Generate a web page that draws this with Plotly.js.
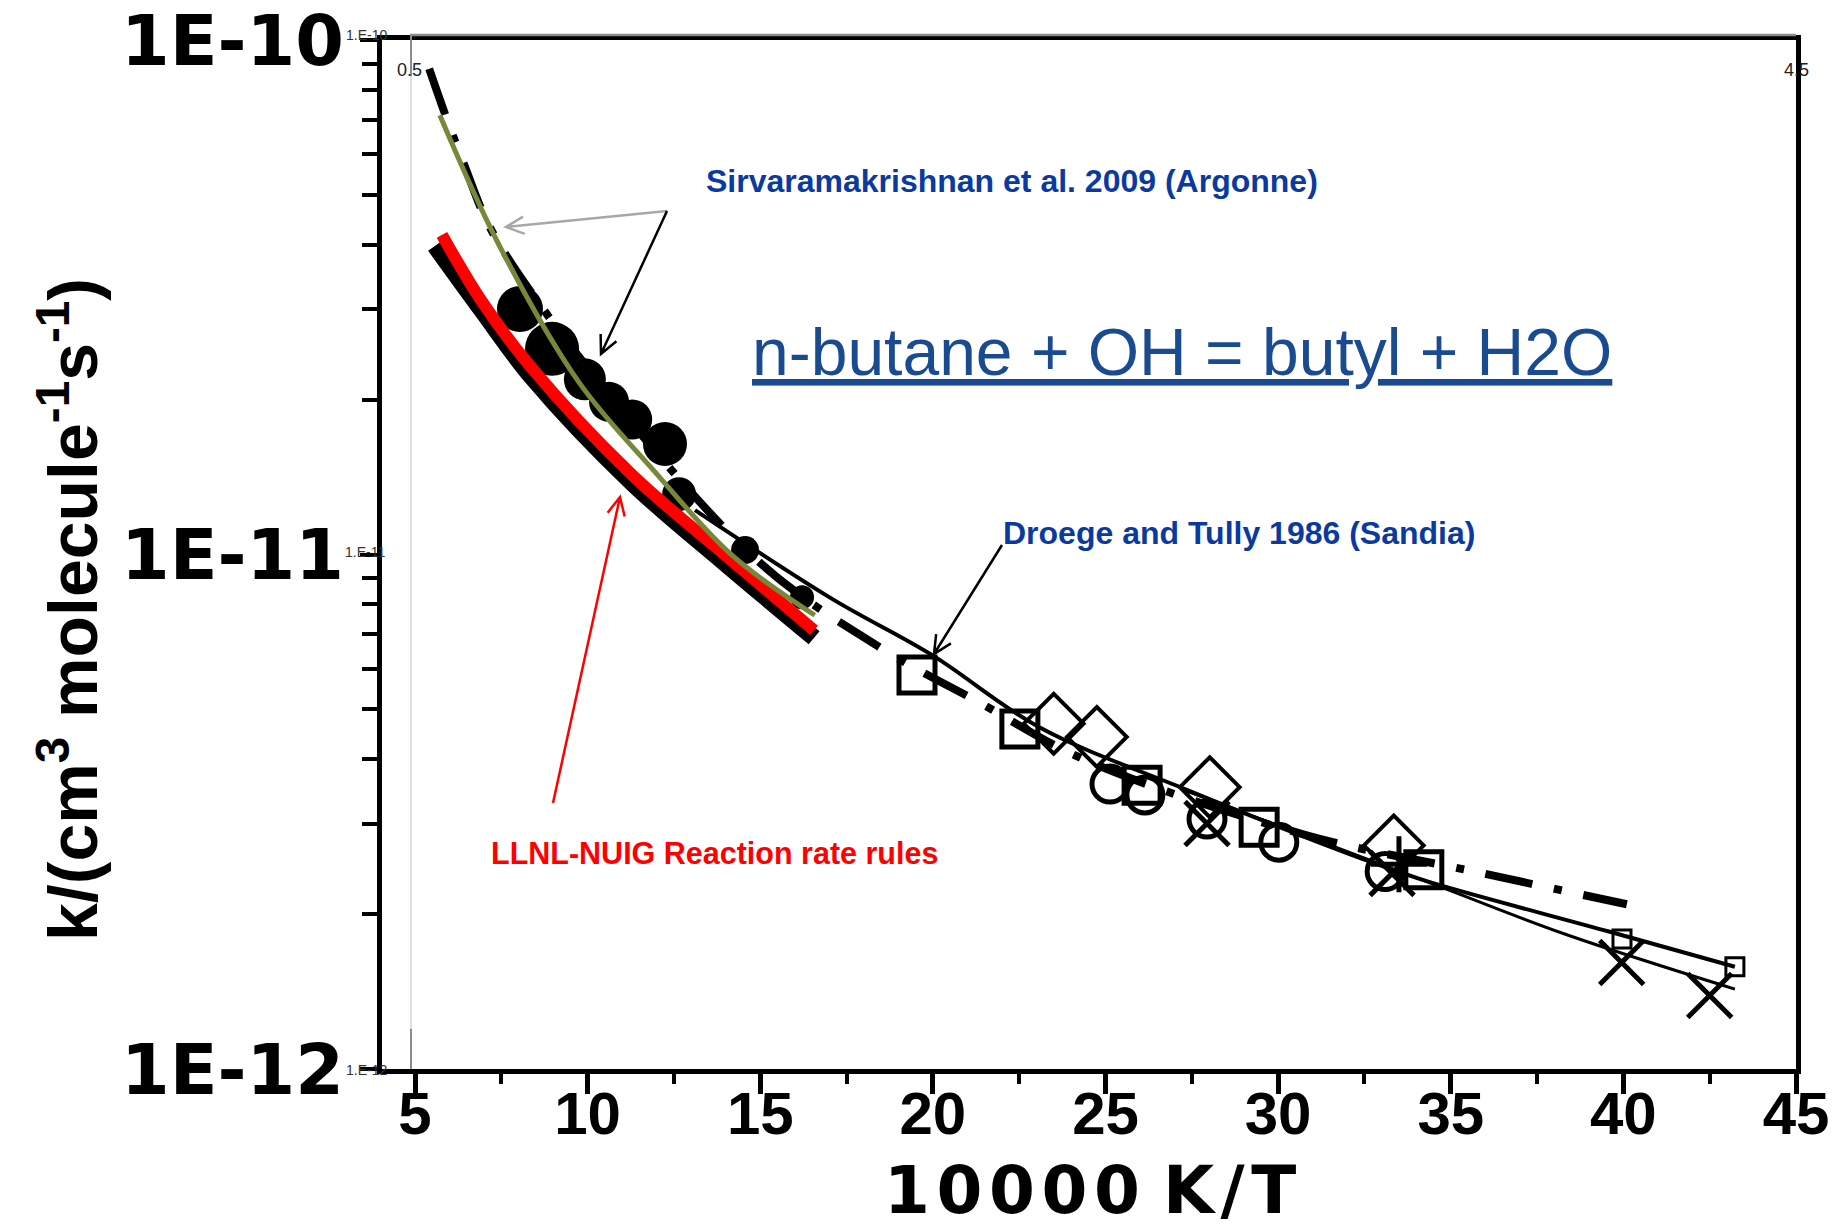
<!DOCTYPE html>
<html>
<head>
<meta charset="utf-8">
<script src="https://cdn.plot.ly/plotly-3.0.1.min.js"></script>
<style>html,body{margin:0;padding:0;background:#ffffff;}</style>
</head>
<body>
<div id="chart" style="width:1839px;height:1230px;"></div>
<script>
// ---------------- data ----------------
// LLNL-NUIG reaction rate rules (red curve)
const llnlX = [5.78, 6.94, 8.39, 11.28, 13.98, 16.56];
const llnlK = [4.18e-11, 3.10e-11, 2.30e-11, 1.43e-11, 9.98e-12, 7.12e-12];
// dense black data band under the red curve (Argonne shock tube)
const bandX = [5.58, 6.94, 8.39, 11.28, 13.98, 16.56];
const bandK = [3.98e-11, 2.98e-11, 2.21e-11, 1.38e-11, 9.62e-12, 6.89e-12];
// olive fit curve
const greenX = [5.72, 7.43, 9.75, 11.86, 14.18, 16.58];
const greenK = [7.14e-11, 4.0e-11, 2.16e-11, 1.47e-11, 9.97e-12, 7.62e-12];
// large filled circles (Sivaramakrishnan et al. 2009, Argonne)
const argX = [8.04, 8.97, 9.92, 10.62, 11.29, 12.24, 12.65, 14.56, 16.21];
const argK = [3.0e-11, 2.51e-11, 2.19e-11, 1.98e-11, 1.83e-11, 1.64e-11, 1.31e-11, 1.02e-11, 8.26e-12];
// dash-dot evaluation line
const dashX = [5.41, 6.36, 7.52, 14.62, 18.35, 21.34, 24.4, 30.8, 35.8, 40.1];
const dashK = [8.79e-11, 5.87e-11, 3.93e-11, 1.016e-11, 6.67e-12, 5.16e-12, 3.99e-12, 2.85e-12, 2.41e-12, 2.09e-12];
// solid fit lines through the low-temperature data
const fitAX = [13.11, 17.08, 19.97, 23.07, 27.3, 32.72, 34.37, 39.58, 43.23];
const fitAK = [1.22e-11, 8.2e-12, 6.38e-12, 4.62e-12, 3.50e-12, 2.52e-12, 2.31e-12, 1.85e-12, 1.58e-12];
const fitBX = [27.3, 34.55, 38.3, 43.23];
const fitBK = [3.48e-12, 2.28e-12, 1.83e-12, 1.43e-12];
// Droege and Tully 1986 (open squares) and other low-T data
const sqX = [19.54, 22.52, 26.06, 29.45, 34.22];
const sqK = [5.83e-12, 4.58e-12, 3.56e-12, 2.95e-12, 2.44e-12];
const smallSqX = [39.96, 43.23];
const smallSqK = [1.79e-12, 1.58e-12];
const diaX = [23.5, 24.75, 28.02, 33.35];
const diaK = [4.69e-12, 4.42e-12, 3.53e-12, 2.72e-12];
const circX = [25.13, 26.14, 27.94, 30.02, 33.10];
const circK = [3.58e-12, 3.41e-12, 3.06e-12, 2.76e-12, 2.42e-12];
const crossX = [27.94, 33.3, 39.95, 42.5];
const crossK = [3.0e-12, 2.4e-12, 1.61e-12, 1.39e-12];
const plusX = [33.5];
const plusK = [2.5e-12];

// ticks
const xTickVals = [5, 10, 15, 20, 25, 30, 35, 40, 45];
const xMinorVals = [7.5, 12.5, 17.5, 22.5, 27.5, 32.5, 37.5, 42.5];
const yTickVals = [1e-12, 1e-11, 1e-10];
const yTickText = ['1E-12', '1E-11', '1E-10'];
const yMinorVals = [2e-12, 3e-12, 4e-12, 5e-12, 6e-12, 7e-12, 8e-12, 9e-12,
                    2e-11, 3e-11, 4e-11, 5e-11, 6e-11, 7e-11, 8e-11, 9e-11];

// ---------------- styling ----------------
const WIDE = '"DejaVu Sans", Verdana, sans-serif';
const ARIAL = '"Liberation Sans", Arial, sans-serif';
const HS = '\u200A'; // hair space, widens the letter spacing of the x title

// pointer arrows (layout decoration, page pixels): [tailX, tailY, tipX, tipY, colour]
const PLOT = {l: 380, t: 38, w: 1414, h: 1029};
function arrowShape(tx, ty, hx, hy, color) {
  const px = v => (v - PLOT.l) / PLOT.w;
  const py = v => (PLOT.t + PLOT.h - v) / PLOT.h;
  const dx = hx - tx, dy = hy - ty, L = Math.hypot(dx, dy);
  const ux = dx / L, uy = dy / L, head = 20, a = 0.45;
  const c = Math.cos(a), s = Math.sin(a);
  const w1x = hx - head * (ux * c - uy * s), w1y = hy - head * (uy * c + ux * s);
  const w2x = hx - head * (ux * c + uy * s), w2y = hy - head * (uy * c - ux * s);
  const path = 'M' + px(tx) + ',' + py(ty) + 'L' + px(hx) + ',' + py(hy) +
               'M' + px(w1x) + ',' + py(w1y) + 'L' + px(hx) + ',' + py(hy) + 'L' + px(w2x) + ',' + py(w2y);
  return {type: 'path', xref: 'paper', yref: 'paper', path: path, line: {color: color, width: 2.5}};
}

const traces = [
  {x: dashX, y: dashK, mode: 'lines', line: {color: '#000', width: 8, dash: '48px,22px,8px,22px', shape: 'spline'}},
  {x: fitAX, y: fitAK, mode: 'lines', line: {color: '#000', width: 4, shape: 'spline'}},
  {x: fitBX, y: fitBK, mode: 'lines', line: {color: '#000', width: 3, shape: 'spline'}},
  {x: argX, y: argK, mode: 'markers', marker: {symbol: 'circle', color: '#000', opacity: 1, size: [46, 54, 42, 40, 40, 44, 34, 28, 24], line: {width: 0}}},
  {x: bandX, y: bandK, mode: 'lines', line: {color: '#000', width: 17, shape: 'spline'}},
  {x: llnlX, y: llnlK, mode: 'lines', line: {color: '#ff0000', width: 12, shape: 'spline'}},
  {x: greenX, y: greenK, mode: 'lines', line: {color: '#76883a', width: 5, shape: 'spline'}},
  {x: sqX, y: sqK, mode: 'markers', marker: {symbol: 'square-open', size: 36, color: '#000', line: {width: 5, color: '#000'}}},
  {x: smallSqX, y: smallSqK, mode: 'markers', marker: {symbol: 'square-open', size: 18, color: '#000', line: {width: 3, color: '#000'}}},
  {x: diaX, y: diaK, mode: 'markers', marker: {symbol: 'diamond-open', size: 46, color: '#000', line: {width: 4, color: '#000'}}},
  {x: circX, y: circK, mode: 'markers', marker: {symbol: 'circle-open', size: 36, color: '#000', line: {width: 5, color: '#000'}}},
  {x: crossX, y: crossK, mode: 'markers', marker: {symbol: 'x-thin-open', size: 44, color: '#000', line: {width: 5, color: '#000'}}},
  {x: plusX, y: plusK, mode: 'markers', marker: {symbol: 'cross-thin-open', size: 40, color: '#000', line: {width: 5, color: '#000'}}}
];

const layout = {
  width: 1839, height: 1230,
  margin: {l: 382, r: 43, t: 40, b: 161, pad: 0},
  paper_bgcolor: '#ffffff', plot_bgcolor: '#ffffff',
  showlegend: false,
  xaxis: {
    range: [4.044, 45], showgrid: false, zeroline: false,
    showline: true, linecolor: '#000', linewidth: 5, mirror: true,
    tickmode: 'array', tickvals: xTickVals,
    ticks: 'outside', ticklen: 20, tickwidth: 5, tickcolor: '#000',
    minor: {tickmode: 'array', tickvals: xMinorVals, ticks: 'outside', ticklen: 10, tickwidth: 4, tickcolor: '#000', showgrid: false},
    tickfont: {family: ARIAL, size: 60, color: '#000', weight: 'bold'},
    ticklabelstandoff: -32, ticklabeloverflow: 'allow'
  },
  yaxis: {
    type: 'log', range: [-12, -10], showgrid: false, zeroline: false,
    showline: true, linecolor: '#000', linewidth: 5, mirror: true,
    tickmode: 'array', tickvals: yTickVals, ticktext: yTickText,
    ticks: 'outside', ticklen: 17, tickwidth: 4, tickcolor: '#000',
    minor: {tickmode: 'array', tickvals: yMinorVals, ticks: 'outside', ticklen: 15, tickwidth: 4, tickcolor: '#000', showgrid: false},
    tickfont: {family: WIDE, size: 70, color: '#000', weight: 'bold'},
    ticklabelstandoff: 2, ticklabeloverflow: 'allow'
  },
  shapes: [
    // faint overlay of the original spreadsheet axes
    {type: 'line', xref: 'paper', yref: 'paper', x0: 0.0198, x1: 1.0, y0: 1.0049, y1: 1.0049, line: {color: '#8c8c8c', width: 2.5}},
    {type: 'line', xref: 'paper', yref: 'paper', x0: 0.0205, x1: 0.0205, y0: 0, y1: 1.0, line: {color: '#d4d4d4', width: 1.5}},
    {type: 'line', xref: 'paper', yref: 'paper', x0: 0.0205, x1: 0.0205, y0: 0.965, y1: 1.0049, line: {color: '#8c8c8c', width: 2}},
    {type: 'line', xref: 'paper', yref: 'paper', x0: 0.0205, x1: 0.0205, y0: 0, y1: 0.039, line: {color: '#8c8c8c', width: 2}},
    // pointer arrows
    arrowShape(665, 209, 504, 225, '#a8a8a8'),
    arrowShape(665, 209, 599, 352, '#000000'),
    arrowShape(1000, 543, 932, 652, '#000000'),
    arrowShape(551, 801, 618, 495, '#ff0000')
  ],
  annotations: [
    // axis titles
    {xref: 'paper', yref: 'paper', x: 0.5007, y: -0.1574,
     text: '1' + HS + '0' + HS + '0' + HS + '0' + HS + '0 K' + HS + '/' + HS + 'T', showarrow: false,
     font: {family: WIDE, size: 66, color: '#000', weight: 'bold'}, xanchor: 'center', yanchor: 'bottom'},
    {xref: 'paper', yref: 'paper', x: -0.2214, y: 0.447, textangle: -90,
     text: 'k/(cm<sup>3</sup> molecule<sup>-1</sup>s<sup>-1</sup>)', showarrow: false,
     font: {family: ARIAL, size: 68, color: '#000', weight: 'bold'}, xanchor: 'center', yanchor: 'middle'},

    // remnants of the spreadsheet axis labels
    {xref: 'paper', yref: 'paper', x: -0.0113, y: 1.0049, text: '1.E-10', showarrow: false, font: {family: ARIAL, size: 14, color: '#333'}, xanchor: 'center', yanchor: 'middle'},
    {xref: 'paper', yref: 'paper', x: -0.0120, y: 0.5024, text: '1.E-11', showarrow: false, font: {family: ARIAL, size: 14, color: '#333'}, xanchor: 'center', yanchor: 'middle'},
    {xref: 'paper', yref: 'paper', x: -0.0113, y: -0.001, text: '1.E-12', showarrow: false, font: {family: ARIAL, size: 14, color: '#333'}, xanchor: 'center', yanchor: 'middle'},
    {xref: 'paper', yref: 'paper', x: 0.0198, y: 0.9708, text: '0.5', showarrow: false, font: {family: ARIAL, size: 18, color: '#222'}, xanchor: 'center', yanchor: 'middle'},
    {xref: 'paper', yref: 'paper', x: 1.0007, y: 0.9708, text: '4.5', showarrow: false, font: {family: ARIAL, size: 18, color: '#222'}, xanchor: 'center', yanchor: 'middle'},

    // labels
    {xref: 'paper', yref: 'paper', x: 0.4455, y: 0.8630, text: 'Sirvaramakrishnan et al. 2009 (Argonne)', showarrow: false,
     font: {family: ARIAL, size: 32, color: '#0a3aa0', weight: 'bold'}, xanchor: 'center', yanchor: 'middle'},
    {xref: 'paper', yref: 'paper', x: 0.5658, y: 0.6968, text: 'n-butane + OH = butyl + H2O', showarrow: false,
     font: {family: ARIAL, size: 66, color: '#1a4b91', lineposition: 'under'}, xanchor: 'center', yanchor: 'middle'},
    {xref: 'paper', yref: 'paper', x: 0.6061, y: 0.5209, text: 'Droege and Tully 1986 (Sandia)', showarrow: false,
     font: {family: ARIAL, size: 32, color: '#0a3aa0', weight: 'bold'}, xanchor: 'center', yanchor: 'middle'},
    {xref: 'paper', yref: 'paper', x: 0.2348, y: 0.2099, text: 'LLNL-NUIG Reaction rate rules', showarrow: false,
     font: {family: ARIAL, size: 30.5, color: '#ff0000', weight: 'bold'}, xanchor: 'center', yanchor: 'middle'}
  ]
};

Plotly.newPlot('chart', traces, layout, {displayModeBar: false, staticPlot: true});
</script>
</body>
</html>
